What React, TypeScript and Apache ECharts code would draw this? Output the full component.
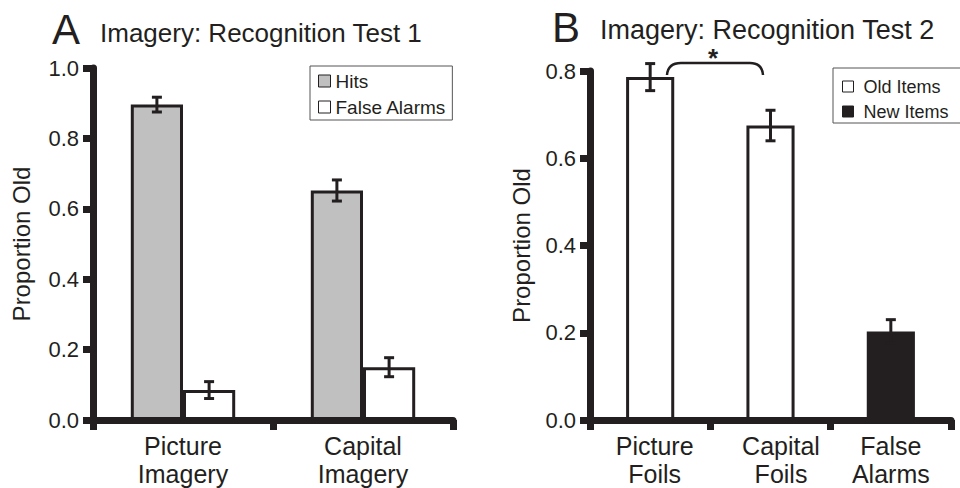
import React, { useEffect, useRef } from "react";
import * as echarts from "echarts";

// ---- Panel A data ----
const categoriesA = ["Picture\nImagery", "Capital\nImagery"];
const hitsValues = [0.896, 0.652];
const hitsErrors = [0.021, 0.03];
const falseAlarmsValues = [0.085, 0.15];
const falseAlarmsErrors = [0.024, 0.027];

// ---- Panel B data ----
const categoriesB = ["Picture\nFoils", "Capital\nFoils", "False\nAlarms"];
const oldItemsValues = [0.786, 0.675, null];
const oldItemsErrors = [0.031, 0.035, null];
const newItemsValues = [null, null, 0.203];
const newItemsErrors = [null, null, 0.027];

const INK = "#231f20";
const GREY = "#c0c0c0";
const FONT = "'Liberation Sans', Arial, sans-serif";
const AXIS_W = 7;

function errData(values: (number | null)[], errors: (number | null)[]) {
  const out: number[][] = [];
  values.forEach((v, i) => {
    const e = errors[i];
    if (v != null && e != null) out.push([i, v, e]);
  });
  return out;
}

function errSeries(name: string, values: (number | null)[], errors: (number | null)[], offset: number, axisIndex: number) {
  return {
    type: "custom",
    name,
    xAxisIndex: axisIndex,
    yAxisIndex: axisIndex,
    z: 5,
    encode: { x: 0, y: 1 },
    data: errData(values, errors),
    renderItem: (params: any, api: any) => {
      const x = api.value(0);
      const v = api.value(1);
      const e = api.value(2);
      const top = api.coord([x, v + e]);
      const bot = api.coord([x, v - e]);
      const band = api.size([1, 0])[0];
      const cx = top[0] + offset * band;
      const hw = 5;
      const style = { stroke: INK, lineWidth: 3 };
      return {
        type: "group",
        children: [
          { type: "line", shape: { x1: cx, y1: top[1], x2: cx, y2: bot[1] }, style },
          { type: "line", shape: { x1: cx - hw, y1: top[1], x2: cx + hw, y2: top[1] }, style },
          { type: "line", shape: { x1: cx - hw, y1: bot[1], x2: cx + hw, y2: bot[1] }, style },
        ],
      };
    },
  };
}

function valueAxis(gridIndex: number, max: number, nameGap: number) {
  return {
    type: "value",
    gridIndex,
    min: 0,
    max,
    interval: 0.2,
    splitLine: { show: false },
    axisLine: { show: true, lineStyle: { color: INK, width: AXIS_W } },
    axisTick: { show: true, length: 10, lineStyle: { color: INK, width: AXIS_W } },
    axisLabel: {
      formatter: (v: number) => v.toFixed(1),
      fontSize: 22,
      color: INK,
      margin: 14,
      fontFamily: FONT,
    },
    name: "Proportion Old",
    nameLocation: "middle",
    nameGap,
    nameTextStyle: { fontSize: 24, color: INK, fontFamily: FONT },
  };
}

function categoryAxis(gridIndex: number, data: any[]) {
  return {
    type: "category",
    gridIndex,
    data,
    axisLine: { show: true, lineStyle: { color: INK, width: AXIS_W } },
    axisTick: { show: true, length: 10, lineStyle: { color: INK, width: AXIS_W } },
    axisLabel: {
      fontSize: 25,
      lineHeight: 28,
      color: INK,
      margin: 12,
      interval: 0,
      fontFamily: FONT,
    },
  };
}

const labelShiftB = [9, 21, 0];

export default function App() {
  const ref = useRef<HTMLDivElement>(null);
  useEffect(() => {
    if (!ref.current) return;
    const chart = echarts.init(ref.current, null, { renderer: "svg" });
    const barBorder = { borderColor: INK, borderWidth: 3 };
    const option: any = {
      animation: false,
      textStyle: { fontFamily: FONT },
      grid: [
        { left: 93, top: 68, width: 360, height: 353 },
        { left: 590, top: 71, width: 361, height: 351 },
      ],
      xAxis: [
        categoryAxis(0, categoriesA),
        categoryAxis(
          1,
          categoriesB.map((c, i) => ({ value: c, textStyle: { padding: [0, 0, 0, labelShiftB[i]] } }))
        ),
      ],
      yAxis: [valueAxis(0, 1, 60), valueAxis(1, 0.8, 57)],
      legend: [
        {
          data: ["Hits", "False Alarms"],
          orient: "vertical",
          left: 310,
          top: 66,
          padding: [5, 6, 3, 8],
          itemGap: 6,
          itemWidth: 12,
          itemHeight: 12,
          borderColor: "#555",
          borderWidth: 1,
          borderRadius: 0,
          icon: "rect",
          itemStyle: { borderWidth: 1, borderColor: INK },
          textStyle: { fontSize: 19, lineHeight: 20, color: INK, fontFamily: FONT },
          selectedMode: false,
        },
        {
          data: ["Old Items", "New Items"],
          orient: "vertical",
          left: 833,
          top: 68,
          padding: [9, 20, 2, 9],
          itemGap: 6,
          itemWidth: 11,
          itemHeight: 11,
          borderColor: "#555",
          borderWidth: 1,
          borderRadius: 0,
          icon: "rect",
          itemStyle: { borderWidth: 1, borderColor: INK },
          textStyle: { fontSize: 18, lineHeight: 19, color: INK, fontFamily: FONT, padding: [0, 0, 0, 5] },
          selectedMode: false,
        },
      ],
      series: [
        {
          type: "bar",
          name: "Hits",
          xAxisIndex: 0,
          yAxisIndex: 0,
          data: hitsValues,
          barWidth: "29%",
          barGap: "0%",
          itemStyle: { color: GREY, ...barBorder },
        },
        {
          type: "bar",
          name: "False Alarms",
          xAxisIndex: 0,
          yAxisIndex: 0,
          data: falseAlarmsValues,
          barWidth: "29%",
          barGap: "0%",
          itemStyle: { color: "#ffffff", ...barBorder },
        },
        errSeries("Hits err", hitsValues, hitsErrors, -0.145, 0),
        errSeries("False Alarms err", falseAlarmsValues, falseAlarmsErrors, 0.145, 0),
        {
          type: "bar",
          name: "Old Items",
          xAxisIndex: 1,
          yAxisIndex: 1,
          data: oldItemsValues,
          barWidth: "40%",
          barGap: "-100%",
          itemStyle: { color: "#ffffff", ...barBorder },
        },
        {
          type: "bar",
          name: "New Items",
          xAxisIndex: 1,
          yAxisIndex: 1,
          data: newItemsValues,
          barWidth: "40%",
          barGap: "-100%",
          itemStyle: { color: INK, ...barBorder },
        },
        errSeries("Old Items err", oldItemsValues, oldItemsErrors, 0, 1),
        errSeries("New Items err", newItemsValues, newItemsErrors, 0, 1),
      ],
      graphic: [
        { type: "text", left: 52, top: 8, style: { text: "A", fontSize: 42, fill: INK, fontFamily: FONT } },
        { type: "text", left: 100, top: 20, style: { text: "Imagery: Recognition Test 1", fontSize: 26, fill: INK, fontFamily: FONT } },
        { type: "text", left: 552, top: 6, style: { text: "B", fontSize: 42, fill: INK, fontFamily: FONT } },
        { type: "text", left: 600, top: 16, style: { text: "Imagery: Recognition Test 2", fontSize: 27, fill: INK, fontFamily: FONT } },
        // significance bracket
        {
          type: "bezierCurve",
          shape: { x1: 667, y1: 75, x2: 681, y2: 63, cpx1: 668, cpy1: 63 },
          style: { stroke: INK, lineWidth: 2.5, fill: null },
        },
        {
          type: "line",
          shape: { x1: 681, y1: 63, x2: 750, y2: 63 },
          style: { stroke: INK, lineWidth: 2.5 },
        },
        {
          type: "bezierCurve",
          shape: { x1: 750, y1: 63, x2: 763, y2: 75, cpx1: 762, cpy1: 63 },
          style: { stroke: INK, lineWidth: 2.5, fill: null },
        },
        {
          type: "text",
          x: 713,
          y: 58,
          style: { text: "*", fontSize: 26, fontWeight: "bold", fill: INK, fontFamily: FONT, align: "center", verticalAlign: "middle" },
        },
      ],
    };
    chart.setOption(option);
    return () => chart.dispose();
  }, []);
  return (
    <div
      ref={ref}
      style={{ position: "fixed", left: 0, top: 0, width: 960, height: 488, background: "#ffffff" }}
    />
  );
}
